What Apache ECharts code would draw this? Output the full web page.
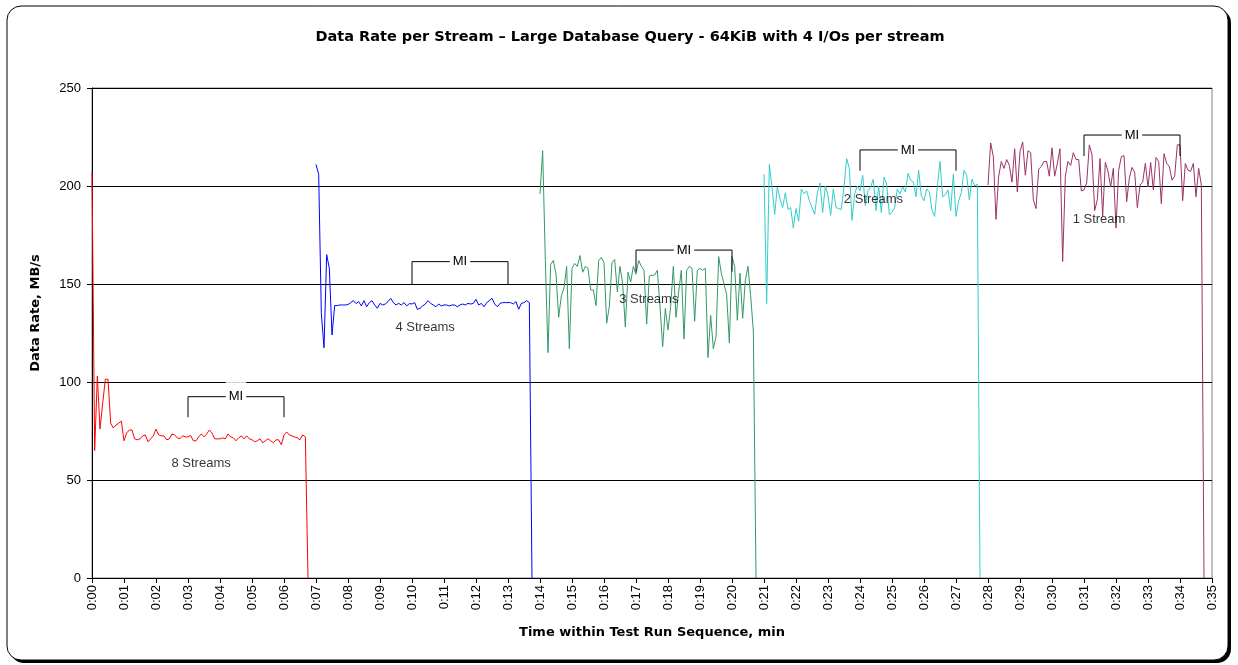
<!DOCTYPE html>
<html>
<head>
<meta charset="utf-8">
<script src="https://cdn.jsdelivr.net/npm/echarts@6/dist/echarts.min.js"></script>
<style>
html,body{margin:0;padding:0;background:#fff;}
#c{width:1238px;height:665px;}
</style>
</head>
<body>
<div id="c"></div>
<script>
// ---- data ----
const titleText = 'Data Rate per Stream \u2013 Large Database Query - 64KiB with 4 I/Os per stream';
const xAxisName = 'Time within Test Run Sequence, min';
const yAxisName = 'Data Rate, MB/s';
const sampleStepMin = 1 / 12;           // one sample every 5 seconds
const seriesNames = ['8 Streams', '4 Streams', '3 Streams', '2 Streams', '1 Stream'];
const seriesStartMin = [0, 7, 14, 21, 28];
const seriesColors = ['#FF0000', '#0000FF', '#339966', '#33CCCC', '#993366'];

const rate8 = [207,65,103,76,89,101.4,101.4,79,76.5,78,79,80,70,74,75.5,75.5,71,70.5,71,72.5,
  73,69.5,71,72.5,76,73,72.5,72.5,70.5,71,73.5,73,71.5,71,72.6,72,72,72.7,70,70,
  72,73.5,72,73.5,75.5,74,71,71,71,71.5,71,73.5,72,71.5,70,71.5,72.5,71,72.5,71,
  70.5,69.5,70,71,69,70,71,70,69,70.5,70.5,68,73,74.5,73,72.5,72,71.5,70.5,73,72,0];
const rate4 = [211,206,135,117.5,165,158,124,139,139,139.3,139.3,139.3,139.5,140.5,141.5,140,141,138.8,141.5,138.4,
  140.5,141.5,139.3,137.6,140.1,139.3,139.8,141,142.7,140.5,139.3,140.1,139.3,140.5,138.8,140,139.8,140.5,137.1,137.6,
  138.8,139.8,141.5,140.1,139.3,138.4,139.8,138.8,139.3,139.3,138.8,139.3,139.3,138.4,139.3,139.8,139.3,140.1,139.8,140.1,
  142.2,139.3,140.1,138.4,140.5,141.5,142.7,139.8,138.4,140.1,140.5,140.5,140.5,140.5,139.8,141,137.1,140.1,140.5,141.5,140.5,0];
const rate3 = [196,218,162,115,160,162,155,133,144,148,159,117,158,160.5,159,164.5,156,159,158,147,
  147,139,162,163.5,161,130,138.5,161,162.5,146,159,150,128,156,151,159,155,162,159,157,
  129.5,154,154.5,154.5,157,138.5,118,137.5,126.5,138.5,159,133,146,157,122,157,159,158,131,157,
  158,157,158,112.5,134,117,123,164,155.5,150,144.5,120,164,159,131.5,155.5,132.5,152,159,144,126,0];
const rate2 = [206,140,211,199.5,185.5,199.5,193.5,189,196.5,188,189,178.5,188.5,182,198.5,196,197.5,192.5,189,185.5,
  196.5,201.5,186.5,200,195,185,198.5,189,188.5,188,199.5,214,209,182.5,196,200,197.5,205.5,190,197.5,
  199.5,203.5,187.5,200,186.5,204.5,201,185.5,186.5,189,198.5,196,199.5,197,206.5,203,202,194.5,208,195,
  192.5,198.5,197,187.5,184.5,199.5,212.5,194.5,195.5,198,187.5,206,184.5,192.5,196.5,208,205.5,193,203.5,200,201,0];
const rate1 = [200.5,222,215,183,205,212.5,209,213.5,210.5,202,219,197,217.5,222.5,205.5,218,217,193,188.5,208.5,
  210,212.5,212.5,205,219.5,205,211.5,219,161.5,205,212.5,210.5,217,213.5,213.5,197.5,198,201.5,221,216,
  187.5,193,214,184.5,212,207.5,199.5,209,178.5,208,215,215.5,192,204,209.5,207,189,200.5,202,211.5,
  199.5,212,198,214.5,212.5,191,216.5,211.5,210,203,205,221,221,192.5,211.5,208,207.5,211.5,194.5,209,200.5,0];
const seriesRates = [rate8, rate4, rate3, rate2, rate1];

// stream labels (minutes, MB/s)
const streamLabelX = [3.41, 10.41, 17.4, 24.42, 31.47];
const streamLabelY = [58.5, 127.7, 142.2, 193.2, 182.7];

// measurement-interval brackets: start min, end min, top MB/s, foot MB/s
const miStart = [3, 10, 17, 24, 31];
const miEnd = [6, 13, 20, 27, 34];
const miTop = [92.5, 161.4, 167.3, 218.4, 226];
const miFoot = [82, 149.8, 156.3, 207.8, 215.3];
const miText = 'MI';

// x tick labels 0:00 ... 0:35
const xMin = 0, xMax = 35, xInterval = 1;
const yMin = 0, yMax = 250, yInterval = 50;

// ---- chart ----
const chart = echarts.init(document.getElementById('c'), null, {renderer: 'canvas'});
const boldFont = '"DejaVu Sans", "Liberation Sans", Arial, sans-serif';
const plainFont = '"Liberation Sans", Arial, sans-serif';

const lineSeries = seriesRates.map((vals, k) => ({
  type: 'line',
  name: seriesNames[k],
  data: vals.map((v, i) => [seriesStartMin[k] + i * sampleStepMin, v]),
  showSymbol: false,
  symbol: 'none',
  lineStyle: {color: seriesColors[k], width: 1},
  itemStyle: {color: seriesColors[k]},
  animation: false,
  z: 3
}));

const labelSeries = {
  type: 'scatter',
  symbolSize: 0,
  data: seriesNames.map((n, k) => ({name: n, value: [streamLabelX[k], streamLabelY[k]]})),
  label: {
    show: true, position: 'inside', formatter: p => p.name,
    color: '#000', fontFamily: plainFont, fontSize: 13
  },
  silent: true, animation: false, z: 5
};

const miSeries = {
  type: 'custom',
  data: miStart.map((s, k) => [s, miEnd[k], miTop[k], miFoot[k]]),
  renderItem: (params, api) => {
    const a = api.coord([api.value(0), api.value(3)]);
    const b = api.coord([api.value(0), api.value(2)]);
    const c = api.coord([api.value(1), api.value(2)]);
    const d = api.coord([api.value(1), api.value(3)]);
    return {
      type: 'group',
      children: [
        {type: 'polyline', shape: {points: [a, b, c, d]},
         style: {stroke: '#000', lineWidth: 1, fill: null}},
        {type: 'text', x: (b[0] + c[0]) / 2, y: b[1],
         style: {text: miText, align: 'center', verticalAlign: 'middle',
           fill: '#000', font: '13px "Liberation Sans", Arial, sans-serif',
           backgroundColor: '#fff', padding: [8, 3, 8, 3]}}
      ]
    };
  },
  silent: true, animation: false, z: 6
};

const option = {
  animation: false,
  backgroundColor: 'transparent',
  textStyle: {fontFamily: plainFont},
  graphic: [
    {type: 'rect', shape: {x: 10, y: 9, width: 1221, height: 654, r: 14},
     style: {fill: '#000'}, z: -20},
    {type: 'rect', shape: {x: 7, y: 6, width: 1221, height: 654, r: 14},
     style: {fill: '#fff', stroke: '#000', lineWidth: 1}, z: -19}
  ],
  title: {
    text: titleText, left: 625, top: 25, textAlign: 'center',
    textStyle: {fontSize: 14.5, fontWeight: 'bold', color: '#000', fontFamily: boldFont}
  },
  grid: {left: 92, top: 88, width: 1120, height: 490, show: true,
    borderColor: '#808080', borderWidth: 1, backgroundColor: 'transparent'},
  xAxis: {
    type: 'value', min: xMin, max: xMax, interval: xInterval,
    name: xAxisName, nameLocation: 'middle', nameGap: 48,
    nameTextStyle: {fontSize: 13, fontWeight: 'bold', color: '#000', fontFamily: boldFont},
    axisLine: {lineStyle: {color: '#000', width: 1}},
    axisTick: {show: true, length: 5, lineStyle: {color: '#000'}},
    splitLine: {show: false},
    axisLabel: {rotate: 90, margin: 7, fontSize: 13, color: '#000',
      formatter: v => '0:' + String(v).padStart(2, '0')}
  },
  yAxis: {
    type: 'value', min: yMin, max: yMax, interval: yInterval,
    name: yAxisName, nameLocation: 'middle', nameGap: 50, nameRotate: 90,
    nameTextStyle: {fontSize: 13, fontWeight: 'bold', color: '#000', fontFamily: boldFont,
      padding: [0, 0, 0, 40]},
    axisLine: {show: true, lineStyle: {color: '#000', width: 1}},
    axisTick: {show: true, length: 5, lineStyle: {color: '#000'}},
    splitLine: {show: true, lineStyle: {color: '#000', width: 1}},
    axisLabel: {margin: 11, fontSize: 13, color: '#000'}
  },
  series: [...lineSeries, miSeries, labelSeries]
};
chart.setOption(option);
</script>
</body>
</html>
